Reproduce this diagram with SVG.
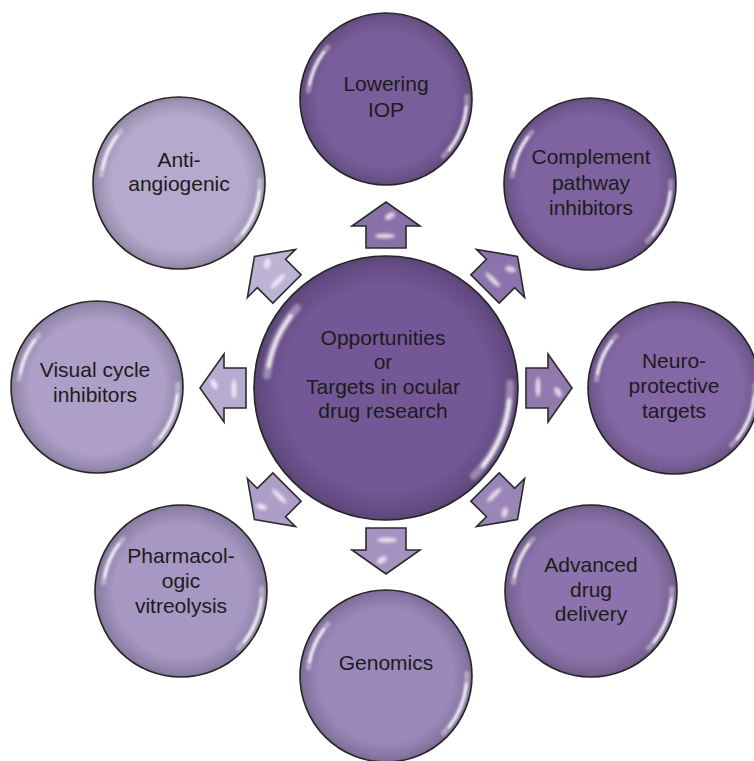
<svg xmlns="http://www.w3.org/2000/svg" xmlns:xlink="http://www.w3.org/1999/xlink" width="754" height="761" viewBox="0 0 754 761">
  <style>
    .lbl { font-family: "Liberation Sans", Arial, Helvetica, sans-serif; font-size: 21px; fill: #1c1c1c; text-anchor: middle; }
    .ring { fill: none; stroke: #262626; stroke-width: 1.6; }
    .arrow { stroke: #2b2b2b; stroke-width: 1.6; stroke-linejoin: miter; }
    .hl { fill: none; stroke: #ffffff; stroke-linecap: round; }
  </style>
  <defs>
    <radialGradient id="rimShade" cx="0" cy="0" r="86" gradientUnits="userSpaceOnUse">
      <stop offset="0.78" stop-color="#000" stop-opacity="0"/>
      <stop offset="0.95" stop-color="#000" stop-opacity="0.14"/>
      <stop offset="1" stop-color="#000" stop-opacity="0.22"/>
    </radialGradient>
    <filter id="soft" x="-20%" y="-20%" width="140%" height="140%">
      <feGaussianBlur stdDeviation="1.1"/>
    </filter>
    <filter id="softer" x="-50%" y="-50%" width="200%" height="200%">
      <feGaussianBlur stdDeviation="1.6"/>
    </filter>
    <!-- glossy bubble shading for a disc of radius 86 centred on the origin -->
    <g id="gloss">
      <circle r="86" fill="url(#rimShade)"/>
      <g filter="url(#soft)">
        <path class="hl" d="M-77.6,-8.2 A78,78 0 0 1 -58,-52.2" stroke-width="5" stroke-opacity="0.35"/>
        <path class="hl" d="M-76.5,-14 A78,78 0 0 1 -62,-47" stroke-width="2.6" stroke-opacity="0.85"/>
        <path class="hl" d="M80.9,-2.8 A81,81 0 0 1 57.3,57.3" stroke-width="5" stroke-opacity="0.35"/>
        <path class="hl" d="M80.3,8 A81,81 0 0 1 63,51" stroke-width="2.6" stroke-opacity="0.9"/>
      </g>
    </g>
    <!-- block arrow pointing along +x, starting just outside the hub -->
    <path id="arrowShape" d="M140,-20 L162,-20 L162,-34 L186,0 L162,34 L162,20 L140,20 Z"/>
    <g id="arrowShine" filter="url(#softer)">
      <ellipse cx="152" cy="-1" rx="2.4" ry="10" fill="#fff" fill-opacity="0.75"/>
      <ellipse cx="172" cy="4" rx="3" ry="5.5" fill="#fff" fill-opacity="0.7" transform="rotate(-30 172 4)"/>
    </g>
  </defs>

  <rect width="754" height="761" fill="#ffffff"/>

  <!-- connectors: block arrows radiating from the hub -->
  <g id="connectors">
    <g id="arrow-up" transform="translate(386 388) rotate(-90)">
      <use href="#arrowShape" class="arrow" fill="#8a70a9"/>
      <use href="#arrowShine"/>
    </g>
    <g id="arrow-ne" transform="translate(386 388) rotate(-45)">
      <use href="#arrowShape" class="arrow" fill="#8c73ab"/>
      <use href="#arrowShine"/>
    </g>
    <g id="arrow-e" transform="translate(386 388)">
      <use href="#arrowShape" class="arrow" fill="#9179ae"/>
      <use href="#arrowShine"/>
    </g>
    <g id="arrow-se" transform="translate(386 388) rotate(45)">
      <use href="#arrowShape" class="arrow" fill="#9a85b6"/>
      <use href="#arrowShine"/>
    </g>
    <g id="arrow-s" transform="translate(386 388) rotate(90)">
      <use href="#arrowShape" class="arrow" fill="#a592c0"/>
      <use href="#arrowShine"/>
    </g>
    <g id="arrow-sw" transform="translate(386 388) rotate(135)">
      <use href="#arrowShape" class="arrow" fill="#ad9ec8"/>
      <use href="#arrowShine"/>
    </g>
    <g id="arrow-w" transform="translate(386 388) rotate(180)">
      <use href="#arrowShape" class="arrow" fill="#b7abd0"/>
      <use href="#arrowShine"/>
    </g>
    <g id="arrow-nw" transform="translate(386 388) rotate(-135)">
      <use href="#arrowShape" class="arrow" fill="#bdb3d5"/>
      <use href="#arrowShine"/>
    </g>
  </g>

  <!-- hub -->
  <g id="node-center">
    <circle cx="386" cy="388" r="132" fill="#735796"/>
    <use href="#gloss" transform="translate(386 388) scale(1.535)"/>
    <circle cx="386" cy="388" r="132" class="ring"/>
    <text class="lbl" x="383" y="345">Opportunities</text>
    <text class="lbl" x="383" y="369">or</text>
    <text class="lbl" x="383" y="394">Targets in ocular</text>
    <text class="lbl" x="383" y="418">drug research</text>
  </g>

  <!-- outer nodes, clockwise from the top -->
  <g id="node-lowering-iop">
    <circle cx="386" cy="99" r="86" fill="#7a5e9c"/>
    <use href="#gloss" transform="translate(386 99)"/>
    <circle cx="386" cy="99" r="86" class="ring"/>
    <text class="lbl" x="386" y="91">Lowering</text>
    <text class="lbl" x="386" y="117">IOP</text>
  </g>

  <g id="node-complement">
    <circle cx="590" cy="184" r="86" fill="#7f63a1"/>
    <use href="#gloss" transform="translate(590 184)"/>
    <circle cx="590" cy="184" r="86" class="ring"/>
    <text class="lbl" x="591" y="164">Complement</text>
    <text class="lbl" x="591" y="190">pathway</text>
    <text class="lbl" x="591" y="215">inhibitors</text>
  </g>

  <g id="node-neuroprotective">
    <circle cx="674" cy="388" r="86" fill="#8468a5"/>
    <use href="#gloss" transform="translate(674 388)"/>
    <circle cx="674" cy="388" r="86" class="ring"/>
    <text class="lbl" x="674" y="368">Neuro-</text>
    <text class="lbl" x="674" y="393">protective</text>
    <text class="lbl" x="674" y="418">targets</text>
  </g>

  <g id="node-drug-delivery">
    <circle cx="591" cy="591" r="86" fill="#8c73ab"/>
    <use href="#gloss" transform="translate(591 591)"/>
    <circle cx="591" cy="591" r="86" class="ring"/>
    <text class="lbl" x="591" y="572">Advanced</text>
    <text class="lbl" x="591" y="597">drug</text>
    <text class="lbl" x="591" y="621">delivery</text>
  </g>

  <g id="node-genomics">
    <circle cx="386" cy="676" r="86" fill="#9b87ba"/>
    <use href="#gloss" transform="translate(386 676)"/>
    <circle cx="386" cy="676" r="86" class="ring"/>
    <text class="lbl" x="386" y="670">Genomics</text>
  </g>

  <g id="node-vitreolysis">
    <circle cx="181" cy="591" r="86" fill="#a697c3"/>
    <use href="#gloss" transform="translate(181 591)"/>
    <circle cx="181" cy="591" r="86" class="ring"/>
    <text class="lbl" x="181" y="563">Pharmacol-</text>
    <text class="lbl" x="181" y="588">ogic</text>
    <text class="lbl" x="181" y="613">vitreolysis</text>
  </g>

  <g id="node-visual-cycle">
    <circle cx="97" cy="387" r="86" fill="#ad9fc8"/>
    <use href="#gloss" transform="translate(97 387)"/>
    <circle cx="97" cy="387" r="86" class="ring"/>
    <text class="lbl" x="95" y="377">Visual cycle</text>
    <text class="lbl" x="95" y="402">inhibitors</text>
  </g>

  <g id="node-anti-angiogenic">
    <circle cx="179" cy="183" r="86" fill="#b5a9cd"/>
    <use href="#gloss" transform="translate(179 183)"/>
    <circle cx="179" cy="183" r="86" class="ring"/>
    <text class="lbl" x="179" y="167">Anti-</text>
    <text class="lbl" x="179" y="191">angiogenic</text>
  </g>
</svg>
